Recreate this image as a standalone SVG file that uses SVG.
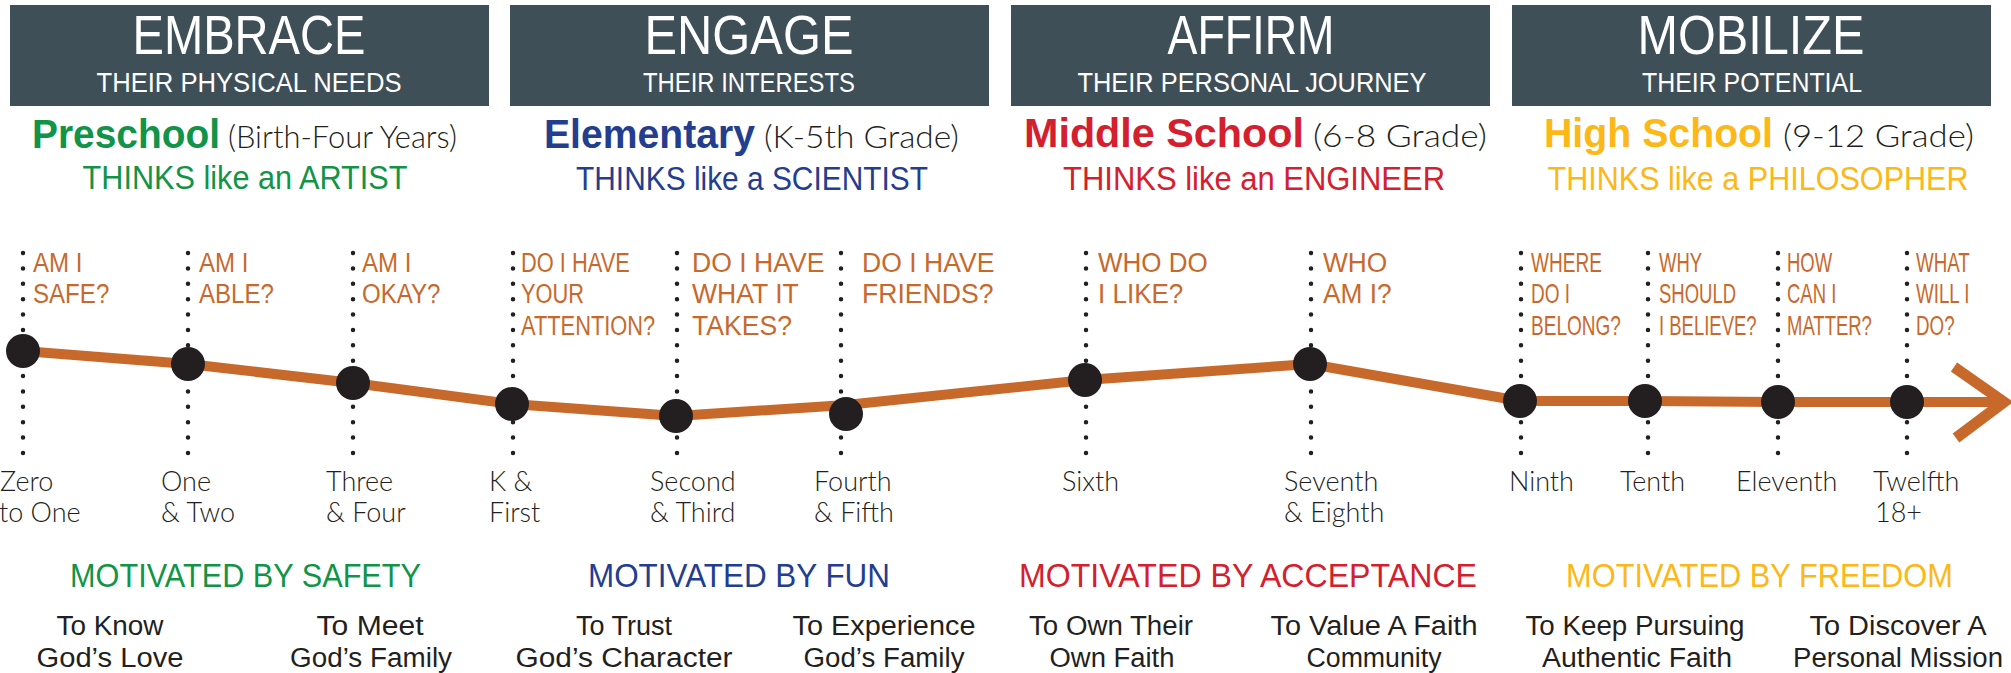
<svg xmlns="http://www.w3.org/2000/svg" width="2011" height="673" viewBox="0 0 2011 673">
<style>
.hdr{fill:#3f4f58}
.ttl{font-family:"Liberation Sans",Arial,sans-serif;font-size:55px;fill:#fff;text-anchor:middle}
.sub{font-family:"Liberation Sans",Arial,sans-serif;font-size:28px;fill:#fff;text-anchor:middle}
.sch{font-family:"Liberation Sans",Arial,sans-serif;font-size:41px;font-weight:bold}
.par{font-family:Lato,"Liberation Sans",sans-serif;font-weight:300;font-size:32px;fill:#231f20}
.thk{font-family:"Liberation Sans",Arial,sans-serif;font-size:33px;text-anchor:middle}
.q{font-family:"Liberation Sans",Arial,sans-serif;font-size:28px;fill:#c8692c}
.lbl{font-family:Lato,"Liberation Sans",sans-serif;font-weight:300;font-size:27px;fill:#231f20}
.mot{font-family:"Liberation Sans",Arial,sans-serif;font-size:33px;text-anchor:middle}
.goal{font-family:"Liberation Sans",Arial,sans-serif;font-size:27px;fill:#231f20;text-anchor:middle}
.vd{stroke:#231f20;stroke-width:4.5;stroke-linecap:round;stroke-dasharray:0 15.38;fill:none}
.dot{fill:#231f20}
.g{fill:#119447}.b{fill:#243e8f}.r{fill:#d4202e}.y{fill:#fbb817}
</style>

<g id="connectors">
  <polyline points="23,351 188,364 353,383 512,404 676,416 846,405 1085,380 1310,364 1520,401 1645,401 1778,402 1907,402 2004,402" fill="none" stroke="#c8692c" stroke-width="10" stroke-linejoin="round"/>
  <polyline points="1954,367 2004,402 1956,438" fill="none" stroke="#c8692c" stroke-width="11" stroke-linejoin="miter"/>
</g>

<g id="embrace">
  <rect class="hdr" x="10" y="5" width="479" height="101"/>
  <text class="ttl" x="249" y="54" textLength="233" lengthAdjust="spacingAndGlyphs">EMBRACE</text>
  <text class="sub" x="249" y="92" textLength="305" lengthAdjust="spacingAndGlyphs">THEIR PHYSICAL NEEDS</text>
  <text class="sch g" x="32" y="148" textLength="188" lengthAdjust="spacingAndGlyphs">Preschool</text>
  <text class="par" x="228" y="148" textLength="229" lengthAdjust="spacingAndGlyphs">(Birth-Four Years)</text>
  <text class="thk g" x="245" y="189" textLength="325" lengthAdjust="spacingAndGlyphs">THINKS like an ARTIST</text>
</g>
<g id="engage">
  <rect class="hdr" x="510" y="5" width="479" height="101"/>
  <text class="ttl" x="749" y="54" textLength="209" lengthAdjust="spacingAndGlyphs">ENGAGE</text>
  <text class="sub" x="749" y="92" textLength="212" lengthAdjust="spacingAndGlyphs">THEIR INTERESTS</text>
  <text class="sch b" x="544" y="148" textLength="211" lengthAdjust="spacingAndGlyphs">Elementary</text>
  <text class="par" x="764" y="148" textLength="195" lengthAdjust="spacingAndGlyphs">(K-5th Grade)</text>
  <text class="thk b" x="752" y="190" textLength="352" lengthAdjust="spacingAndGlyphs">THINKS like a SCIENTIST</text>
</g>
<g id="affirm">
  <rect class="hdr" x="1011" y="5" width="479" height="101"/>
  <text class="ttl" x="1251" y="54" textLength="167" lengthAdjust="spacingAndGlyphs">AFFIRM</text>
  <text class="sub" x="1252" y="92" textLength="349" lengthAdjust="spacingAndGlyphs">THEIR PERSONAL JOURNEY</text>
  <text class="sch r" x="1024" y="147" textLength="280" lengthAdjust="spacingAndGlyphs">Middle School</text>
  <text class="par" x="1313" y="147" textLength="174" lengthAdjust="spacingAndGlyphs">(6-8 Grade)</text>
  <text class="thk r" x="1254" y="190" textLength="382" lengthAdjust="spacingAndGlyphs">THINKS like an ENGINEER</text>
</g>
<g id="mobilize">
  <rect class="hdr" x="1512" y="5" width="479" height="101"/>
  <text class="ttl" x="1751" y="54" textLength="227" lengthAdjust="spacingAndGlyphs">MOBILIZE</text>
  <text class="sub" x="1752" y="92" textLength="220" lengthAdjust="spacingAndGlyphs">THEIR POTENTIAL</text>
  <text class="sch y" x="1544" y="147" textLength="229" lengthAdjust="spacingAndGlyphs">High School</text>
  <text class="par" x="1783" y="147" textLength="191" lengthAdjust="spacingAndGlyphs">(9-12 Grade)</text>
  <text class="thk y" x="1758" y="190" textLength="421" lengthAdjust="spacingAndGlyphs">THINKS like a PHILOSOPHER</text>
</g>

<g id="stop-zero">
  <line class="vd" x1="23" y1="253" x2="23" y2="453"/>
  <circle class="dot" cx="23" cy="351" r="17"/>
  <g transform="translate(33 0) scale(0.86 1)"><text class="q" y="272">AM I</text><text class="q" y="303.5">SAFE?</text></g>
  <text class="lbl" x="0" y="491">Zero</text><text class="lbl" x="-1" y="522">to One</text>
</g>
<g id="stop-one">
  <line class="vd" x1="188" y1="253" x2="188" y2="453"/>
  <circle class="dot" cx="188" cy="364" r="17"/>
  <g transform="translate(199 0) scale(0.86 1)"><text class="q" y="272">AM I</text><text class="q" y="303.5">ABLE?</text></g>
  <text class="lbl" x="161" y="491">One</text><text class="lbl" x="161" y="522">&amp; Two</text>
</g>
<g id="stop-three">
  <line class="vd" x1="353" y1="253" x2="353" y2="453"/>
  <circle class="dot" cx="353" cy="383" r="17"/>
  <g transform="translate(362 0) scale(0.86 1)"><text class="q" y="272">AM I</text><text class="q" y="303.5">OKAY?</text></g>
  <text class="lbl" x="326" y="491">Three</text><text class="lbl" x="326" y="522">&amp; Four</text>
</g>
<g id="stop-k">
  <line class="vd" x1="513" y1="253" x2="513" y2="453"/>
  <circle class="dot" cx="512" cy="404" r="17"/>
  <g transform="translate(521 0) scale(0.78 1)"><text class="q" y="272">DO I HAVE</text><text class="q" y="303.5">YOUR</text><text class="q" y="335">ATTENTION?</text></g>
  <text class="lbl" x="489" y="491">K &amp;</text><text class="lbl" x="489" y="522">First</text>
</g>
<g id="stop-second">
  <line class="vd" x1="677" y1="253" x2="677" y2="453"/>
  <circle class="dot" cx="676" cy="416" r="17"/>
  <g transform="translate(692 0) scale(0.95 1)"><text class="q" y="272">DO I HAVE</text><text class="q" y="303.5">WHAT IT</text><text class="q" y="335">TAKES?</text></g>
  <text class="lbl" x="650" y="491">Second</text><text class="lbl" x="650" y="522">&amp; Third</text>
</g>
<g id="stop-fourth">
  <line class="vd" x1="841" y1="253" x2="841" y2="453"/>
  <circle class="dot" cx="846" cy="414" r="17"/>
  <g transform="translate(862 0) scale(0.95 1)"><text class="q" y="272">DO I HAVE</text><text class="q" y="303.5">FRIENDS?</text></g>
  <text class="lbl" x="814" y="491">Fourth</text><text class="lbl" x="814" y="522">&amp; Fifth</text>
</g>
<g id="stop-sixth">
  <line class="vd" x1="1086" y1="253" x2="1086" y2="453"/>
  <circle class="dot" cx="1085" cy="380" r="17"/>
  <g transform="translate(1098 0) scale(0.93 1)"><text class="q" y="272">WHO DO</text><text class="q" y="303.5">I LIKE?</text></g>
  <text class="lbl" x="1062" y="491">Sixth</text>
</g>
<g id="stop-seventh">
  <line class="vd" x1="1311" y1="253" x2="1311" y2="453"/>
  <circle class="dot" cx="1310" cy="364" r="17"/>
  <g transform="translate(1323 0) scale(0.94 1)"><text class="q" y="272">WHO</text><text class="q" y="303.5">AM I?</text></g>
  <text class="lbl" x="1284" y="491">Seventh</text><text class="lbl" x="1284" y="522">&amp; Eighth</text>
</g>
<g id="stop-ninth">
  <line class="vd" x1="1521" y1="253" x2="1521" y2="453"/>
  <circle class="dot" cx="1520" cy="401" r="17"/>
  <g transform="translate(1531 0) scale(0.68 1)"><text class="q" y="272">WHERE</text><text class="q" y="303.5">DO I</text><text class="q" y="335">BELONG?</text></g>
  <text class="lbl" x="1509" y="491">Ninth</text>
</g>
<g id="stop-tenth">
  <line class="vd" x1="1648" y1="253" x2="1648" y2="453"/>
  <circle class="dot" cx="1645" cy="401" r="17"/>
  <g transform="translate(1659 0) scale(0.66 1)"><text class="q" y="272">WHY</text><text class="q" y="303.5">SHOULD</text><text class="q" y="335">I BELIEVE?</text></g>
  <text class="lbl" x="1620" y="491">Tenth</text>
</g>
<g id="stop-eleventh">
  <line class="vd" x1="1778" y1="253" x2="1778" y2="453"/>
  <circle class="dot" cx="1778" cy="402" r="17"/>
  <g transform="translate(1787 0) scale(0.66 1)"><text class="q" y="272">HOW</text><text class="q" y="303.5">CAN I</text><text class="q" y="335">MATTER?</text></g>
  <text class="lbl" x="1736" y="491">Eleventh</text>
</g>
<g id="stop-twelfth">
  <line class="vd" x1="1907" y1="253" x2="1907" y2="453"/>
  <circle class="dot" cx="1907" cy="402" r="17"/>
  <g transform="translate(1916 0) scale(0.67 1)"><text class="q" y="272">WHAT</text><text class="q" y="303.5">WILL I</text><text class="q" y="335">DO?</text></g>
  <text class="lbl" x="1873" y="491">Twelfth</text><text class="lbl" x="1875" y="522">18+</text>
</g>

<g id="motivation-preschool">
  <text class="mot g" x="245.5" y="587" textLength="351" lengthAdjust="spacingAndGlyphs">MOTIVATED BY SAFETY</text>
  <text class="goal" x="110" y="635" textLength="107" lengthAdjust="spacingAndGlyphs">To Know</text>
  <text class="goal" x="110" y="667" textLength="147" lengthAdjust="spacingAndGlyphs">God’s Love</text>
  <text class="goal" x="370" y="635" textLength="107" lengthAdjust="spacingAndGlyphs">To Meet</text>
  <text class="goal" x="371" y="667" textLength="162" lengthAdjust="spacingAndGlyphs">God’s Family</text>
</g>
<g id="motivation-elementary">
  <text class="mot b" x="739" y="587" textLength="302" lengthAdjust="spacingAndGlyphs">MOTIVATED BY FUN</text>
  <text class="goal" x="624" y="635" textLength="96" lengthAdjust="spacingAndGlyphs">To Trust</text>
  <text class="goal" x="624" y="667" textLength="217" lengthAdjust="spacingAndGlyphs">God’s Character</text>
  <text class="goal" x="884" y="635" textLength="183" lengthAdjust="spacingAndGlyphs">To Experience</text>
  <text class="goal" x="884" y="667" textLength="161" lengthAdjust="spacingAndGlyphs">God’s Family</text>
</g>
<g id="motivation-middle">
  <text class="mot r" x="1248" y="587" textLength="458" lengthAdjust="spacingAndGlyphs">MOTIVATED BY ACCEPTANCE</text>
  <text class="goal" x="1111" y="635" textLength="164" lengthAdjust="spacingAndGlyphs">To Own Their</text>
  <text class="goal" x="1112" y="667" textLength="125" lengthAdjust="spacingAndGlyphs">Own Faith</text>
  <text class="goal" x="1374" y="635" textLength="207" lengthAdjust="spacingAndGlyphs">To Value A Faith</text>
  <text class="goal" x="1374" y="667" textLength="135" lengthAdjust="spacingAndGlyphs">Community</text>
</g>
<g id="motivation-high">
  <text class="mot y" x="1759.5" y="587" textLength="387" lengthAdjust="spacingAndGlyphs">MOTIVATED BY FREEDOM</text>
  <text class="goal" x="1635" y="635" textLength="219" lengthAdjust="spacingAndGlyphs">To Keep Pursuing</text>
  <text class="goal" x="1637" y="667" textLength="190" lengthAdjust="spacingAndGlyphs">Authentic Faith</text>
  <text class="goal" x="1898" y="635" textLength="177" lengthAdjust="spacingAndGlyphs">To Discover A</text>
  <text class="goal" x="1898" y="667" textLength="210" lengthAdjust="spacingAndGlyphs">Personal Mission</text>
</g>
</svg>
